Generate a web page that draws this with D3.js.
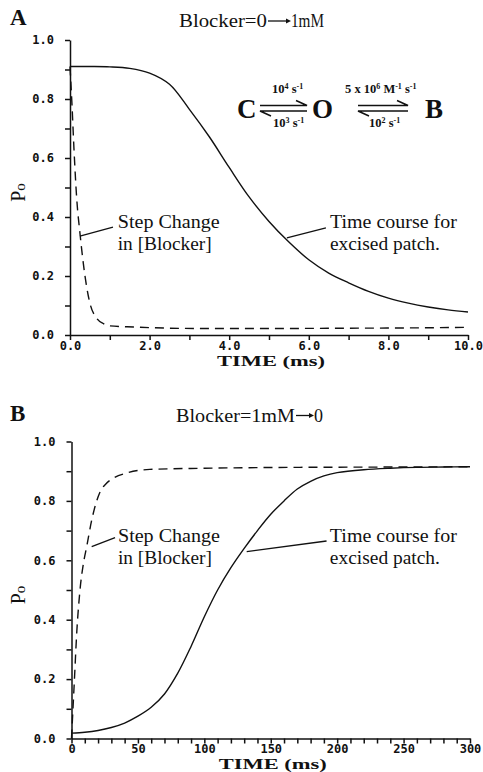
<!DOCTYPE html>
<html>
<head>
<meta charset="utf-8">
<script src="https://cdn.jsdelivr.net/npm/d3@7"></script>
<style>
  body { margin: 0; background: #fff; }
  .tick text { font-family: "DejaVu Sans Mono", monospace; font-weight: bold; font-size: 12px; fill: #111; }
</style>
</head>
<body>
<div id="chart"></div>
<script>
// Panel A: Blocker = 0 -> 1 mM, time in ms
const timeA_patch = [0, 0.5, 1.0, 1.5, 2.0, 2.5, 3.0, 3.5, 4.0, 4.5, 5.0, 5.5, 6.0, 6.5, 7.0, 7.5, 8.0, 8.5, 9.0, 9.5, 10.0]
const poA_patch = [0.91, 0.91, 0.909, 0.904, 0.888, 0.85, 0.765, 0.672, 0.568, 0.468, 0.385, 0.315, 0.255, 0.21, 0.177, 0.148, 0.125, 0.108, 0.095, 0.085, 0.078]
const timeA_step = [0, 0.05, 0.1, 0.17, 0.25, 0.38, 0.5, 0.67, 0.85, 1.0, 1.6, 3.3, 5.0, 7.0, 8.5, 10.0]
const poA_step = [0.91, 0.78, 0.63, 0.46, 0.345, 0.197, 0.108, 0.057, 0.038, 0.031, 0.027, 0.022, 0.022, 0.023, 0.024, 0.026]

// Panel B: Blocker = 1 mM -> 0, time in ms
const timeB_patch = [0, 10, 20, 30, 40, 50, 60, 70, 80, 90, 100, 110, 120, 130, 140, 150, 160, 170, 180, 190, 200, 220, 240, 260, 280, 300]
const poB_patch = [0.018, 0.021, 0.027, 0.037, 0.052, 0.075, 0.105, 0.15, 0.22, 0.31, 0.41, 0.5, 0.575, 0.64, 0.70, 0.755, 0.80, 0.84, 0.866, 0.884, 0.895, 0.905, 0.91, 0.913, 0.914, 0.915]
const timeB_step = [0, 1, 2, 4, 6.4, 9, 11.4, 15.2, 21.5, 26, 31.3, 41.6, 59, 100, 172, 240, 300]
const poB_step = [0.0, 0.09, 0.18, 0.36, 0.5, 0.59, 0.645, 0.735, 0.83, 0.858, 0.876, 0.894, 0.906, 0.91, 0.913, 0.914, 0.915]

// tick values
const yTicks = d3.range(0, 11).map(i => i / 10)
const xTicksA = d3.range(0, 11, 1)
const xTicksB = d3.range(0, 310, 10)

const serif = "'Liberation Serif', 'Times New Roman', serif"

const svg = d3.select("#chart")
  .append("svg")
    .attr("width", 483)
    .attr("height", 772)
    .style("background", "#fff")

const zip = (xs, ys) => xs.map((t, i) => [t, ys[i]])

const panels = [
  {
    letter: "A", letterY: 25,
    x: d3.scaleLinear().domain([0, 10]).range([70, 468]),
    y: d3.scaleLinear().domain([0, 1]).range([335, 40]),
    xTicks: xTicksA,
    xFormat: d => d % 2 === 0 ? d.toFixed(1) : "",
    patch: zip(timeA_patch, poA_patch),
    step: zip(timeA_step, poA_step),
    title: ["Blocker=0", "1mM"], titleX: 179, titleY: 27, titleW: [88, 33],
    stepNote: {from: [0.25, 0.335], to: [1.08, 0.366], at: [1.2, 0.363], dy: 22},
    patchNote: {from: [5.45, 0.329], to: [6.43, 0.363], at: [6.53, 0.363], dy: 22},
    xTitleY: 366
  },
  {
    letter: "B", letterY: 421,
    x: d3.scaleLinear().domain([0, 300]).range([71.5, 470]),
    y: d3.scaleLinear().domain([0, 1]).range([738.5, 441.5]),
    xTicks: xTicksB,
    xFormat: d => d % 50 === 0 ? d : "",
    patch: zip(timeB_patch, poB_patch),
    step: zip(timeB_step, poB_step),
    title: ["Blocker=1mM", "0"], titleX: 176, titleY: 421.5, titleW: [119, 9],
    stepNote: {from: [15.2, 0.646], to: [32.8, 0.676], at: [35, 0.663], dy: 22},
    patchNote: {from: [131.9, 0.629], to: [192, 0.665], at: [194.5, 0.663], dy: 22},
    xTitleY: 769
  }
]

function addText(g, str, x, y, size, opts = {}) {
  const t = g.append("text")
    .attr("x", x)
    .attr("y", y)
    .attr("font-family", serif)
    .attr("font-size", size)
    .attr("fill", "#111")
    .text(str)
  if (opts.weight) t.attr("font-weight", opts.weight)
  if (opts.width) t.attr("textLength", opts.width).attr("lengthAdjust", "spacingAndGlyphs")
  if (opts.anchor) t.attr("text-anchor", opts.anchor)
  return t
}

function arrow(g, x1, x2, y) {
  g.append("line")
    .attr("x1", x1).attr("x2", x2 - 3).attr("y1", y).attr("y2", y)
    .attr("stroke", "#111").attr("stroke-width", 1.3)
  g.append("path")
    .attr("d", `M${x2},${y} L${x2 - 5},${y - 2.5} L${x2 - 5},${y + 2.5} Z`)
    .attr("fill", "#111")
}

panels.forEach(p => {
  const g = svg.append("g")

  // x axis
  g.append("g")
    .attr("transform", `translate(0,${p.y(0)})`)
    .call(d3.axisBottom(p.x).tickValues(p.xTicks).tickFormat(p.xFormat)
      .tickSize(5).tickPadding(1).tickSizeOuter(0))
    .call(a => a.selectAll("path, line").attr("stroke", "#111").attr("stroke-width", 1.5))

  // y axis
  g.append("g")
    .attr("transform", `translate(${p.x(0)},0)`)
    .call(d3.axisLeft(p.y).tickValues(yTicks)
      .tickFormat(d => Math.round(d * 10) % 2 === 0 ? d.toFixed(1) : "")
      .tickSize(5).tickPadding(11).tickSizeOuter(0))
    .call(a => a.selectAll("path, line").attr("stroke", "#111").attr("stroke-width", 1.5))

  const line = d3.line()
    .x(d => p.x(d[0]))
    .y(d => p.y(d[1]))

  g.append("path")
    .datum(p.patch)
    .attr("d", line.curve(d3.curveCatmullRom.alpha(0.5)))
    .attr("fill", "none")
    .attr("stroke", "#111")
    .attr("stroke-width", 1.4)

  g.append("path")
    .datum(p.step)
    .attr("d", line.curve(d3.curveMonotoneX))
    .attr("fill", "none")
    .attr("stroke", "#111")
    .attr("stroke-width", 1.4)
    .attr("stroke-dasharray", "9,6")

  // panel letter and title
  addText(g, p.letter, 10, p.letterY, 23, {weight: "bold"})
  addText(g, p.title[0], p.titleX, p.titleY, 18, {width: p.titleW[0]})
  const ax = p.titleX + p.titleW[0] + 1
  const aw = p.letter === "A" ? 23 : 18
  arrow(g, ax, ax + aw, p.titleY - 6)
  addText(g, p.title[1], ax + aw, p.titleY, 18, {width: p.titleW[1]})

  // y label Po
  const yl = g.append("text")
    .attr("transform", `translate(25,${(p.y(0) + p.y(1)) / 2 + 5}) rotate(-90)`)
    .attr("text-anchor", "middle")
    .attr("font-family", serif)
    .attr("font-size", 20)
    .attr("fill", "#111")
  yl.append("tspan").text("P")
  yl.append("tspan").attr("font-size", 15).text("o")

  // x label
  addText(g, "TIME  (ms)", (p.x.range()[0] + p.x.range()[1]) / 2 + 2, p.xTitleY, 14,
    {weight: "bold", anchor: "middle", width: 108})

  // annotations with leader lines
  const notes = [
    [p.stepNote, ["Step Change", "in [Blocker]"], [102, 94]],
    [p.patchNote, ["Time course for", "excised patch."], [127, 110]]
  ]
  notes.forEach(([n, lines, widths]) => {
    g.append("line")
      .attr("x1", p.x(n.from[0])).attr("y1", p.y(n.from[1]))
      .attr("x2", p.x(n.to[0])).attr("y2", p.y(n.to[1]))
      .attr("stroke", "#111").attr("stroke-width", 1.3)
    lines.forEach((s, i) => {
      addText(g, s, p.x(n.at[0]), p.y(n.at[1]) + i * n.dy, 18, {width: widths[i]})
    })
  })
})

// kinetic scheme in panel A
const scheme = svg.append("g")
const states = [["C", 237], ["O", 312], ["B", 425]]
states.forEach(([s, x]) => addText(scheme, s, x, 118, 27, {weight: "bold"}))

function harpoons(x1, x2) {
  scheme.append("path")
    .attr("d", `M${x1},105.5 L${x2},105.5 L${x2 - 11},100.5`)
    .attr("fill", "none").attr("stroke", "#111").attr("stroke-width", 1.5)
  scheme.append("path")
    .attr("d", `M${x2},111 L${x1},111 L${x1 + 11},116`)
    .attr("fill", "none").attr("stroke", "#111").attr("stroke-width", 1.5)
}
harpoons(260, 307)
harpoons(358, 408)

function rate(parts, x, y) {
  const t = scheme.append("text")
    .attr("x", x).attr("y", y)
    .attr("font-family", serif)
    .attr("font-size", 12.5)
    .attr("font-weight", "bold")
    .attr("fill", "#111")
  parts.forEach(([s, sup]) => {
    const ts = t.append("tspan").text(s)
    if (sup) ts.attr("font-size", 8).attr("baseline-shift", "super")
  })
}
rate([["10"], ["4", true], [" s"], ["-1", true]], 272, 93)
rate([["10"], ["3", true], [" s"], ["-1", true]], 273, 127)
rate([["5 x 10"], ["6", true], [" M"], ["-1", true], [" s"], ["-1", true]], 345, 93)
rate([["10"], ["2", true], [" s"], ["-1", true]], 369, 127)
</script>
</body>
</html>
